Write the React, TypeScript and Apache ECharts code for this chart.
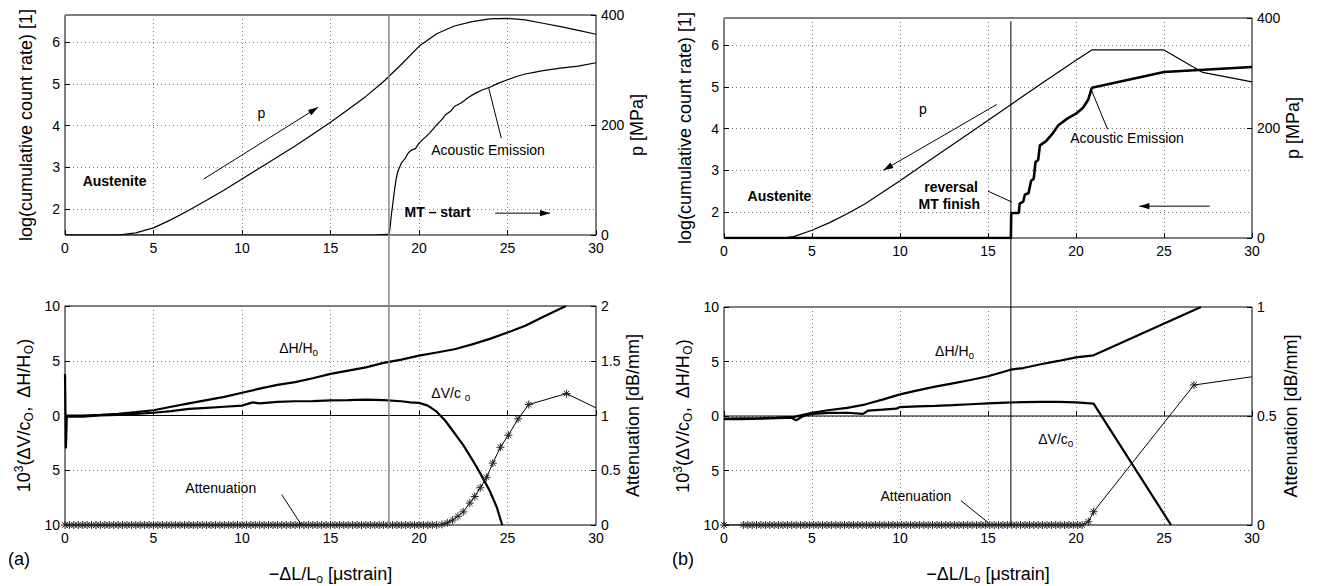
import React, { useEffect, useRef } from "react";
import * as echarts from "echarts";

const FONT = "'Liberation Sans', Arial, Helvetica, sans-serif";
const NARROW = "'Liberation Sans Narrow', 'Liberation Sans', Arial, sans-serif";

// ---------- shared axis ranges ----------
const strainRange = [0, 30];
const logRange = [1.376, 6.655];
const pressureRange = [0, 400];
const relRange = [-10, 10];
const attRangeA = [0, 2];
const attRangeB = [0, 1];

// ---------- panel (a) top ----------
const pressureAX = [0, 3, 4, 5, 6, 7, 8, 9, 10, 11, 12, 13, 14, 15, 16, 17, 18, 19, 20, 21, 22, 23, 24, 25, 26, 27, 28, 29, 30];
const pressureAY = [0, 0, 4, 13, 28, 45, 63, 82, 102, 122, 142, 162, 183, 205, 228, 252, 279, 310, 343, 366, 380, 388, 393, 394, 391, 385, 379, 372, 365];
const aeAX = [0, 17.4, 17.4, 18.25, 18.3, 18.35, 18.45, 18.5, 18.6, 18.7, 18.8, 19, 19.2, 19.4, 19.6, 19.8, 20, 20.3, 20.6, 21, 21.3, 21.5, 21.8, 22, 22.4, 22.8, 23.2, 23.6, 24, 24.5, 25, 25.5, 26, 26.5, 27, 28, 29, 30];
const aeAY = [1.376, 1.376, 1.39, 1.39, 1.376, 1.5, 1.9, 2.06, 2.4, 2.7, 2.9, 3.1, 3.2, 3.35, 3.42, 3.45, 3.58, 3.7, 3.82, 4.02, 4.15, 4.26, 4.35, 4.46, 4.55, 4.68, 4.78, 4.86, 4.92, 5.02, 5.1, 5.18, 5.24, 5.28, 5.32, 5.38, 5.43, 5.51];
const mtStartA = 18.3;

// ---------- panel (a) bottom ----------
const dHAX = [0, 1, 2, 3, 4, 5, 6, 7, 8, 9, 10, 11, 12, 13, 14, 15, 16, 17, 18, 19, 20, 21, 22, 23, 24, 25, 26, 27, 28.3];
const dHAY = [0, 0, 0.05, 0.15, 0.3, 0.48, 0.8, 1.1, 1.4, 1.7, 2.08, 2.45, 2.8, 3.05, 3.4, 3.8, 4.1, 4.4, 4.8, 5.1, 5.47, 5.75, 6.05, 6.5, 7.0, 7.58, 8.2, 9.0, 10];
const dVAX = [0, 0.05, 0.1, 1, 2, 3, 4, 5, 6, 7, 8, 9, 10, 10.6, 11, 12, 13, 14, 15, 16, 17, 18, 19, 19.5, 20, 20.5, 21, 21.5, 22, 22.5, 23, 23.5, 24, 24.4, 24.7];
const dVAY = [3.8, -3, -0.1, -0.1, 0, 0.05, 0.15, 0.25, 0.4, 0.6, 0.7, 0.8, 0.9, 1.2, 1.1, 1.25, 1.3, 1.32, 1.38, 1.4, 1.45, 1.4, 1.3, 1.2, 1.15, 0.9, 0.35, -0.5, -1.6, -2.7, -4.0, -5.4, -6.9, -8.4, -10];
const attBaseAX = [0, 0.25, 0.5, 0.75, 1, 1.25, 1.5, 1.75, 2, 2.25, 2.5, 2.75, 3, 3.25, 3.5, 3.75, 4, 4.25, 4.5, 4.75, 5, 5.25, 5.5, 5.75, 6, 6.25, 6.5, 6.75, 7, 7.25, 7.5, 7.75, 8, 8.25, 8.5, 8.75, 9, 9.25, 9.5, 9.75, 10, 10.25, 10.5, 10.75, 11, 11.25, 11.5, 11.75, 12, 12.25, 12.5, 12.75, 13, 13.25, 13.5, 13.75, 14, 14.25, 14.5, 14.75, 15, 15.25, 15.5, 15.75, 16, 16.25, 16.5, 16.75, 17, 17.25, 17.5, 17.75, 18, 18.25, 18.5, 18.75, 19, 19.25, 19.5, 19.75, 20, 20.25, 20.5, 20.75, 21];
const attCurveAX = [21.3, 21.6, 21.9, 22.2, 22.5, 22.87, 23.15, 23.46, 23.82, 24.17, 24.6, 25.05, 25.6, 26.2, 28.33, 30];
const attCurveAY = [0.005, 0.02, 0.045, 0.08, 0.12, 0.2, 0.26, 0.34, 0.435, 0.565, 0.71, 0.82, 0.97, 1.1, 1.2, 1.07];

// ---------- panel (b) top ----------
const pressureBX = [0, 3.4, 4, 5, 6, 7, 8, 10, 12, 14, 16, 18, 20, 20.9, 25, 27.2, 30];
const pressureBY = [0, 0, 3, 14, 28, 44, 62, 104, 148, 192, 236, 280, 323, 342, 342, 301, 284];
const aeBX = [0, 16.3, 16.32, 16.75, 16.8, 17.0, 17.1, 17.3, 17.45, 17.6, 17.7, 17.85, 17.95, 18.3, 18.7, 19, 19.5, 20, 20.4, 20.7, 20.9, 25, 30];
const aeBY = [1.376, 1.376, 1.976, 1.976, 2.2, 2.25, 2.42, 2.45, 2.75, 2.8, 3.2, 3.25, 3.6, 3.7, 3.9, 4.08, 4.24, 4.36, 4.5, 4.7, 4.98, 5.36, 5.48];
const reversalB = 16.3;

// ---------- panel (b) bottom ----------
const dHBX = [0, 1, 2, 3, 4, 5, 6, 7, 8, 9, 10, 11, 12, 13, 14, 15, 16, 16.3, 17, 18, 19, 20, 21, 27.1];
const dHBY = [-0.24, -0.22, -0.2, -0.15, -0.08, 0.3, 0.55, 0.75, 1.05, 1.5, 1.98, 2.35, 2.7, 3.0, 3.3, 3.65, 4.1, 4.26, 4.4, 4.75, 5.05, 5.38, 5.57, 10];
const dVBX = [0, 1, 2, 3, 3.8, 4.1, 4.5, 5, 6, 7, 7.9, 8.2, 9, 9.8, 10, 11, 12, 13, 14, 15, 16, 17, 18, 19, 20, 21, 25.4];
const dVBY = [-0.3, -0.28, -0.25, -0.2, -0.15, -0.4, 0, 0.2, 0.28, 0.3, 0.2, 0.5, 0.58, 0.67, 0.82, 0.88, 0.93, 1.0, 1.08, 1.16, 1.22, 1.28, 1.3, 1.3, 1.25, 1.13, -10];
const attBaseBX = [0, 1.1, 1.35, 1.6, 1.85, 2.1, 2.35, 2.6, 2.85, 3.1, 3.35, 3.6, 3.85, 4.1, 4.35, 4.6, 4.85, 5.1, 5.35, 5.6, 5.85, 6.1, 6.35, 6.6, 6.85, 7.1, 7.35, 7.6, 7.85, 8.1, 8.35, 8.6, 8.85, 9.1, 9.35, 9.6, 9.85, 10.1, 10.35, 10.6, 10.85, 11.1, 11.35, 11.6, 11.85, 12.1, 12.35, 12.6, 12.85, 13.1, 13.35, 13.6, 13.85, 14.1, 14.35, 14.6, 14.85, 15.1, 15.35, 15.6, 15.85, 16.1, 16.35, 16.6, 16.85, 17.1, 17.35, 17.6, 17.85, 18.1, 18.35, 18.6, 18.85, 19.1, 19.35, 19.6, 19.85, 20.1, 20.35];
const attCurveBX = [20.7, 21.0, 26.7, 30];
const attCurveBY = [0.015, 0.061, 0.642, 0.68];

// ---------- annotations (data coordinates) ----------
type Note = { x: number; y: number; t: string; bold?: boolean; rich?: boolean };
const notesATop: Note[] = [
  { x: 2.8, y: 2.66, t: "Austenite", bold: true },
  { x: 11.1, y: 4.3, t: "p" },
  { x: 23.9, y: 3.42, t: "Acoustic Emission" },
  { x: 21.05, y: 1.92, t: "MT – start", bold: true },
];
const notesABot: Note[] = [
  { x: 13.2, y: 6.2, t: "{a|ΔH/H}{s|o}", rich: true },
  { x: 21.8, y: 2.08, t: "{a|ΔV/c }{s|o}", rich: true },
  { x: 8.8, y: -6.6, t: "Attenuation" },
];
const notesBTop: Note[] = [
  { x: 3.15, y: 2.38, t: "Austenite", bold: true },
  { x: 11.3, y: 4.47, t: "p" },
  { x: 12.9, y: 2.6, t: "reversal", bold: true },
  { x: 12.8, y: 2.2, t: "MT finish", bold: true },
  { x: 22.9, y: 3.78, t: "Acoustic Emission" },
];
const notesBBot: Note[] = [
  { x: 13.1, y: 5.94, t: "{a|ΔH/H}{s|o}", rich: true },
  { x: 18.85, y: -2.13, t: "{a|ΔV/c}{s|o}", rich: true },
  { x: 10.9, y: -7.3, t: "Attenuation" },
];
type Seg = { from: number[]; to: number[]; arrow?: boolean };
const segsATop: Seg[] = [
  { from: [7.84, 2.72], to: [14.3, 4.44], arrow: true },
  { from: [24.3, 1.9], to: [27.4, 1.9], arrow: true },
  { from: [24.65, 3.7], to: [23.94, 4.9] },
];
const segsABot: Seg[] = [{ from: [12.24, -7.22], to: [13.36, -10] }];
const segsBTop: Seg[] = [
  { from: [15.5, 4.58], to: [9.05, 3.0], arrow: true },
  { from: [27.6, 2.14], to: [23.6, 2.14], arrow: true },
  { from: [15.0, 2.5], to: [16.35, 2.24] },
  { from: [21.8, 3.98], to: [20.9, 4.9] },
];
const segsBBot: Seg[] = [{ from: [13.46, -7.76], to: [15.03, -9.8] }];

const zip = (xs: number[], ys: number[]) => xs.map((x, i) => [x, ys[i]]);

const ASTERISK = "path://M5 0L5 10M0 5L10 5M1.5 1.5L8.5 8.5M1.5 8.5L8.5 1.5";

function xAxis(gridIndex: number, withName: boolean) {
  return {
    type: "value",
    gridIndex,
    min: strainRange[0],
    max: strainRange[1],
    interval: 5,
    axisLine: { show: false },
    axisTick: { inside: true, length: 5, lineStyle: { color: "#000" } },
    axisLabel: { color: "#000", fontSize: 14, fontFamily: FONT, margin: 6 },
    splitLine: { show: true, lineStyle: { color: "#777", type: [1, 3], width: 1 } },
    name: withName ? "−ΔL/L{s|o} [μstrain]" : "",
    nameLocation: "middle",
    nameGap: 38,
    nameTextStyle: {
      color: "#000",
      fontSize: 18,
      fontFamily: FONT,
      rich: { s: { fontSize: 12, fontFamily: FONT, color: "#000", padding: [10, 0, 0, 0] } },
    },
  };
}

function yAxis(gridIndex: number, position: string, range: number[], opts: any) {
  return {
    type: "value",
    gridIndex,
    position,
    min: range[0],
    max: range[1],
    axisLine: { show: false },
    axisTick: { inside: true, length: 5, lineStyle: { color: "#000" } },
    axisLabel: { color: "#000", fontSize: 14, fontFamily: FONT, margin: 5 },
    splitLine: { show: false },
    nameLocation: "middle",
    nameRotate: 90,
    nameTextStyle: { color: "#000", fontSize: 18, fontFamily: FONT },
    ...opts,
  };
}

const gridLine = { show: true, lineStyle: { color: "#777", type: [1, 3], width: 1 } };

const relName = "10{sup|3}(ΔV/c{s|O},  ΔH/H{s|O})";
const relNameStyle = {
  color: "#000",
  fontSize: 18,
  fontFamily: FONT,
  rich: {
    sup: { fontSize: 12, fontFamily: FONT, color: "#000", padding: [0, 0, 10, 0] },
    s: { fontSize: 12, fontFamily: FONT, color: "#000", padding: [10, 0, 0, 0] },
  },
};

function attSeries(name: string, xi: number, yi: number, baseX: number[], curveX: number[], curveY: number[]) {
  return {
    type: "line", name, xAxisIndex: xi, yAxisIndex: yi, clip: true, silent: true,
    symbol: ASTERISK, symbolSize: 8, showSymbol: true, showAllSymbol: true,
    itemStyle: { color: "none", borderColor: "#222", borderWidth: 1 },
    lineStyle: { color: "#000", width: 1 },
    data: [
      ...baseX.map((x) => [x, 0]),
      ...zip(curveX, curveY).map((p, i, arr) => (i === arr.length - 1 ? { value: p, symbol: "none" } : p)),
    ],
  };
}

function buildOption() {
  const lineBase = { type: "line", showSymbol: false, symbol: "none", clip: true, silent: true };
  const logLabel = { color: "#000", fontSize: 14, fontFamily: FONT, margin: 5, showMinLabel: false, showMaxLabel: false };
  const absLabel = { color: "#000", fontSize: 14, fontFamily: FONT, margin: 5, formatter: (v: number) => String(Math.abs(v)) };
  return {
    animation: false,
    backgroundColor: "#fff",
    grid: [
      { left: 65, top: 15, width: 531, height: 220 },
      { left: 65, top: 306, width: 531, height: 221 },
      { left: 724, top: 18, width: 528, height: 220 },
      { left: 724, top: 307, width: 528, height: 220 },
    ].map((g) => ({ ...g, show: true, borderColor: "#000", borderWidth: 1, backgroundColor: "transparent" })),
    xAxis: [xAxis(0, false), xAxis(1, true), xAxis(2, false), xAxis(3, true)],
    yAxis: [
      yAxis(0, "left", logRange, { splitNumber: 5, splitLine: gridLine, axisLabel: logLabel, name: "log(cumulative count rate) [1]", nameGap: 30 }),
      yAxis(0, "right", pressureRange, { interval: 200, name: "p [MPa]", nameGap: 24 }),
      yAxis(1, "left", relRange, { interval: 5, splitLine: gridLine, axisLabel: absLabel, name: relName, nameGap: 30, nameTextStyle: relNameStyle }),
      yAxis(1, "right", attRangeA, { interval: 0.5, name: "Attenuation [dB/mm]", nameGap: 26 }),
      yAxis(2, "left", logRange, { splitNumber: 5, splitLine: gridLine, axisLabel: logLabel, name: "log(cumulative count rate) [1]", nameGap: 30 }),
      yAxis(2, "right", pressureRange, { interval: 200, name: "p [MPa]", nameGap: 30 }),
      yAxis(3, "left", relRange, { interval: 5, splitLine: gridLine, axisLabel: absLabel, name: relName, nameGap: 30, nameTextStyle: relNameStyle }),
      yAxis(3, "right", attRangeB, { interval: 0.5, name: "Attenuation [dB/mm]", nameGap: 30 }),
    ],
    series: [
      // (a) top
      { ...lineBase, name: "p (a)", xAxisIndex: 0, yAxisIndex: 1, data: zip(pressureAX, pressureAY), lineStyle: { color: "#000", width: 1.2 } },
      { ...lineBase, name: "AE (a)", xAxisIndex: 0, yAxisIndex: 0, data: zip(aeAX, aeAY), lineStyle: { color: "#000", width: 1.2 } },
      // (a) bottom
      { ...lineBase, name: "zero (a)", xAxisIndex: 1, yAxisIndex: 2, data: [[strainRange[0], 0], [strainRange[1], 0]], lineStyle: { color: "#000", width: 1 } },
      { ...lineBase, name: "dH (a)", xAxisIndex: 1, yAxisIndex: 2, data: zip(dHAX, dHAY), lineStyle: { color: "#000", width: 2.2 } },
      { ...lineBase, name: "dV (a)", xAxisIndex: 1, yAxisIndex: 2, data: zip(dVAX, dVAY), lineStyle: { color: "#000", width: 2.2 } },
      attSeries("Att (a)", 1, 3, attBaseAX, attCurveAX, attCurveAY),
      // (b) top
      { ...lineBase, name: "p (b)", xAxisIndex: 2, yAxisIndex: 5, data: zip(pressureBX, pressureBY), lineStyle: { color: "#000", width: 1.2 } },
      { ...lineBase, name: "AE (b)", xAxisIndex: 2, yAxisIndex: 4, data: zip(aeBX, aeBY), lineStyle: { color: "#000", width: 2.6 } },
      // (b) bottom
      { ...lineBase, name: "zero (b)", xAxisIndex: 3, yAxisIndex: 6, data: [[strainRange[0], 0], [strainRange[1], 0]], lineStyle: { color: "#000", width: 1 } },
      { ...lineBase, name: "dH (b)", xAxisIndex: 3, yAxisIndex: 6, data: zip(dHBX, dHBY), lineStyle: { color: "#000", width: 2.2 } },
      { ...lineBase, name: "dV (b)", xAxisIndex: 3, yAxisIndex: 6, data: zip(dVBX, dVBY), lineStyle: { color: "#000", width: 2.2 } },
      attSeries("Att (b)", 3, 7, attBaseBX, attCurveBX, attCurveBY),
    ],
  };
}

function buildGraphics(chart: any) {
  const els: any[] = [];
  const px = (xi: number, yi: number, pt: number[]) => chart.convertToPixel({ xAxisIndex: xi, yAxisIndex: yi }, pt) as number[];

  const addNotes = (notes: Note[], xi: number, yi: number) => {
    notes.forEach((n) => {
      const [x, y] = px(xi, yi, [n.x, n.y]);
      const style: any = {
        text: n.t,
        fill: "#000",
        align: "center",
        verticalAlign: "middle",
        fontSize: 14,
        fontFamily: NARROW,
        fontWeight: n.bold ? "bold" : "normal",
      };
      if (n.rich) {
        style.rich = {
          a: { fontSize: 14, fontFamily: NARROW, fill: "#000", color: "#000" },
          s: { fontSize: 10, fontFamily: NARROW, fill: "#000", color: "#000", padding: [9, 0, 0, 0] },
        };
      }
      els.push({ type: "text", x, y, silent: true, style, z: 100 });
    });
  };
  const addSegs = (segs: Seg[], xi: number, yi: number) => {
    segs.forEach((s) => {
      const [x1, y1] = px(xi, yi, s.from);
      const [x2, y2] = px(xi, yi, s.to);
      els.push({ type: "line", silent: true, z: 100, shape: { x1, y1, x2, y2 }, style: { stroke: "#000", lineWidth: 1 } });
      if (s.arrow) {
        const dx = x2 - x1, dy = y2 - y1;
        const len = Math.hypot(dx, dy) || 1;
        const ux = dx / len, uy = dy / len;
        const hl = 10, hw = 3.2;
        const bx = x2 - ux * hl, by = y2 - uy * hl;
        els.push({
          type: "polygon", silent: true, z: 100,
          shape: { points: [[x2, y2], [bx - uy * hw, by + ux * hw], [bx + uy * hw, by - ux * hw]] },
          style: { fill: "#000" },
        });
      }
    });
  };

  addNotes(notesATop, 0, 0);
  addNotes(notesABot, 1, 2);
  addNotes(notesBTop, 2, 4);
  addNotes(notesBBot, 3, 6);
  addSegs(segsATop, 0, 0);
  addSegs(segsABot, 1, 2);
  addSegs(segsBTop, 2, 4);
  addSegs(segsBBot, 3, 6);

  // vertical transition markers spanning both panels
  const [ax1, ay1] = px(0, 0, [mtStartA, logRange[1]]);
  const [ax2, ay2] = px(1, 2, [mtStartA, relRange[0]]);
  els.push({ type: "line", silent: true, z: 90, shape: { x1: ax1, y1: ay1, x2: ax2, y2: ay2 }, style: { stroke: "#888", lineWidth: 1.5 } });
  const [bx1, by1] = px(2, 4, [reversalB, 6.58]);
  const [bx2, by2] = px(3, 6, [reversalB, relRange[0]]);
  els.push({ type: "line", silent: true, z: 90, shape: { x1: bx1, y1: by1, x2: bx2, y2: by2 }, style: { stroke: "#000", lineWidth: 1 } });

  // panel letters
  const [la] = px(1, 2, [0, -10]);
  const [lb] = px(3, 6, [0, -10]);
  els.push({ type: "text", left: la - 57, top: 550, silent: true, style: { text: "(a)", fill: "#000", fontSize: 18, fontFamily: FONT } });
  els.push({ type: "text", left: lb - 52, top: 550, silent: true, style: { text: "(b)", fill: "#000", fontSize: 18, fontFamily: FONT } });
  return els;
}

export default function App() {
  const ref = useRef<HTMLDivElement>(null);
  useEffect(() => {
    if (!ref.current) return;
    const chart = echarts.init(ref.current, null, { renderer: "svg" });
    chart.setOption(buildOption() as any);
    chart.setOption({ graphic: buildGraphics(chart) } as any);
    return () => chart.dispose();
  }, []);
  return (
    <div
      ref={ref}
      style={{ position: "fixed", left: 0, top: 0, width: 1325, height: 586, background: "#fff" }}
    />
  );
}
